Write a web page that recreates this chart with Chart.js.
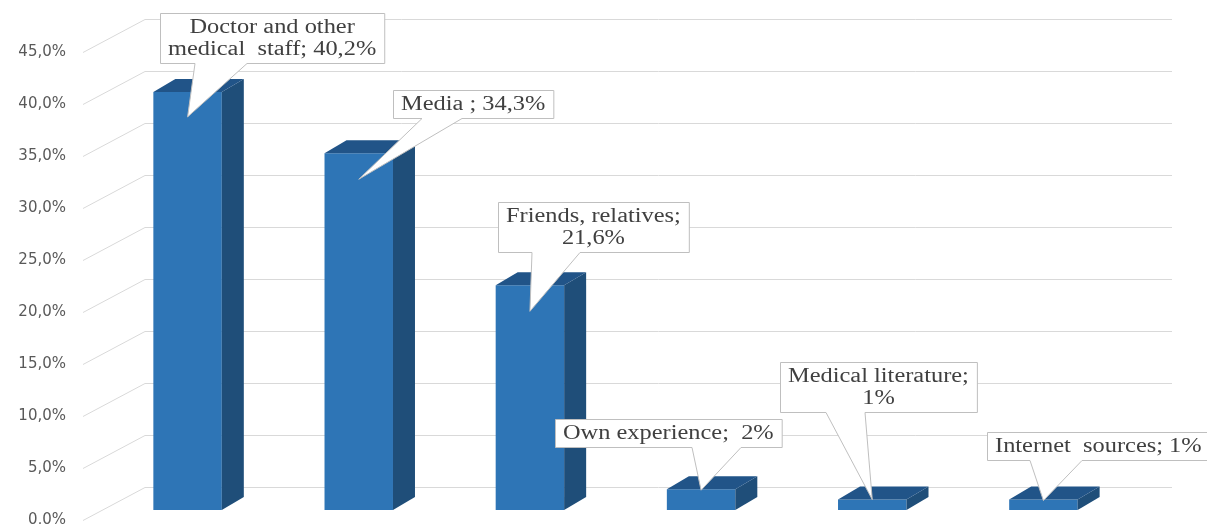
<!DOCTYPE html>
<html>
<head>
<meta charset="utf-8">
<script src="https://cdn.jsdelivr.net/npm/chart.js@4.4.1/dist/chart.umd.min.js"></script>
<style>
  html, body { margin: 0; padding: 0; background: #fff; }
  #wrap { width: 1207px; height: 524px; }
</style>
</head>
<body>
<div id="wrap"><canvas id="sourcesChart" width="1207" height="524"></canvas></div>
<script>
// sources of information, share of respondents (%)
const sources = ['Doctor and other\nmedical  staff', 'Media ', 'Friends, relatives', 'Own experience', 'Medical literature', 'Internet  sources'];
const shares = [40.2, 34.3, 21.6, 2, 1, 1];
const yTicks = [0, 5, 10, 15, 20, 25, 30, 35, 40, 45];

// callout boxes: top-left corner, pointer base on the box bottom, pointer drop below bar top
const callouts = [
  { x: 160, y: 13, base: [195, 247], drop: 25, sep: '; ' },
  { x: 393, y: 90, base: [422, 462], drop: 26, sep: '; ' },
  { x: 498, y: 202, base: [532, 580], drop: 26, sep: ';\n' },
  { x: 555, y: 419, base: [692, 741], drop: 1, sep: ';  ' },
  { x: 780, y: 362, base: [826, 865], drop: 0, sep: ';\n' },
  { x: 987, y: 432, base: [1030, 1082], drop: 1, sep: '; ' }
];

const FRONT = '#2e75b6';
const SIDE = '#1f4e79';
const TOP = '#215488';
const GRID = '#d9d9d9';
const BAR_DEPTH = { dx: 22, dy: -13 };
const BACK = { dx: 43, dy: -23 };
const WALL = { dx: -19, dy: 10 };
const STRETCH = 1.22;

const fmt = v => String(v).replace('.', ',') + '%';

const depth3d = {
  id: 'depth3d',
  beforeDatasetsDraw(chart) {
    const { ctx, chartArea } = chart;
    const y = chart.scales.y;
    ctx.save();
    ctx.strokeStyle = GRID;
    ctx.lineWidth = 1;
    y.ticks.forEach(t => {
      const py = Math.round(y.getPixelForValue(t.value)) + 0.5;
      ctx.beginPath();
      ctx.moveTo(chartArea.left + WALL.dx, py + WALL.dy);
      ctx.lineTo(chartArea.left + BACK.dx, py + BACK.dy);
      ctx.lineTo(chartArea.right + BACK.dx, py + BACK.dy);
      ctx.stroke();
    });
    ctx.restore();
  },
  afterDatasetsDraw(chart) {
    const { ctx } = chart;
    ctx.save();
    chart.getDatasetMeta(0).data.forEach(bar => {
      const { x, y, base, width } = bar.getProps(['x', 'y', 'base', 'width'], true);
      const l = x - width / 2, r = x + width / 2;
      ctx.fillStyle = SIDE;
      ctx.beginPath();
      ctx.moveTo(r, y);
      ctx.lineTo(r + BAR_DEPTH.dx, y + BAR_DEPTH.dy);
      ctx.lineTo(r + BAR_DEPTH.dx, base + BAR_DEPTH.dy);
      ctx.lineTo(r, base);
      ctx.closePath();
      ctx.fill();
      ctx.fillStyle = TOP;
      ctx.beginPath();
      ctx.moveTo(l, y);
      ctx.lineTo(l + BAR_DEPTH.dx, y + BAR_DEPTH.dy);
      ctx.lineTo(r + BAR_DEPTH.dx, y + BAR_DEPTH.dy);
      ctx.lineTo(r, y);
      ctx.closePath();
      ctx.fill();
    });
    ctx.restore();
  },
  afterDraw(chart) {
    const { ctx } = chart;
    const bars = chart.getDatasetMeta(0).data;
    ctx.save();
    ctx.font = '20px "Liberation Serif"';
    ctx.textBaseline = 'middle';
    ctx.textAlign = 'center';
    callouts.forEach((c, i) => {
      const text = sources[i] + c.sep + fmt(shares[i]);
      const lines = text.split('\n');
      const lineH = 22;
      const w = Math.max(...lines.map(s => ctx.measureText(s).width)) * STRETCH + 16;
      const h = lines.length * lineH + 6;
      const bottom = c.y + h;
      const bar = bars[i].getProps(['x', 'y'], true);
      const tipX = bar.x, tipY = bar.y + c.drop;

      ctx.beginPath();
      ctx.moveTo(c.x + 0.5, c.y + 0.5);
      ctx.lineTo(c.x + w + 0.5, c.y + 0.5);
      ctx.lineTo(c.x + w + 0.5, bottom + 0.5);
      ctx.lineTo(c.base[1], bottom + 0.5);
      ctx.lineTo(tipX, tipY);
      ctx.lineTo(c.base[0], bottom + 0.5);
      ctx.lineTo(c.x + 0.5, bottom + 0.5);
      ctx.closePath();
      ctx.fillStyle = '#ffffff';
      ctx.fill();
      ctx.strokeStyle = '#bfbfbf';
      ctx.lineWidth = 1;
      ctx.stroke();

      ctx.fillStyle = '#404040';
      lines.forEach((s, k) => {
        ctx.save();
        ctx.translate(c.x + w / 2, c.y + 3 + lineH * k + lineH / 2 + 1);
        ctx.scale(STRETCH, 1);
        ctx.fillText(s, 0, 0);
        ctx.restore();
      });
    });
    ctx.restore();
  }
};

new Chart(document.getElementById('sourcesChart').getContext('2d'), {
  type: 'bar',
  data: {
    labels: sources,
    datasets: [{
      data: shares,
      backgroundColor: FRONT,
      borderWidth: 0,
      barPercentage: 0.4,
      categoryPercentage: 1.0
    }]
  },
  options: {
    responsive: false,
    animation: false,
    devicePixelRatio: 1,
    layout: { padding: { left: 0, right: 78, top: 42, bottom: 14 } },
    plugins: {
      legend: { display: false },
      tooltip: { enabled: false }
    },
    scales: {
      x: { display: false },
      y: {
        min: 0,
        max: 45,
        afterBuildTicks: axis => { axis.ticks = yTicks.map(v => ({ value: v })); },
        afterFit: axis => {
          axis.width = 102;
          axis.paddingTop = 0;
          axis.paddingBottom = 0;
        },
        border: { display: false },
        grid: { display: false, drawTicks: true, tickLength: 36 },
        ticks: {
          padding: 0,
          labelOffset: 10,
          color: '#595959',
          font: { family: 'DejaVu Sans', size: 15 },
          callback: v => v.toFixed(1).replace('.', ',') + '%'
        }
      }
    }
  },
  plugins: [depth3d]
});
</script>
</body>
</html>
